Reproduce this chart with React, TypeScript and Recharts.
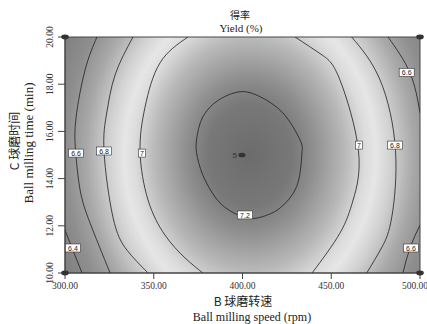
import { LineChart, Line, XAxis, YAxis, ReferenceArea, ReferenceDot } from "recharts";

const SERIF = "'Liberation Serif', 'Times New Roman', serif";
const CJK = "'Noto Sans CJK SC', sans-serif";
const SANS = "'Liberation Sans', Arial, sans-serif";

// B: ball milling speed (rpm), C: ball milling time (min)
const speedTicks = [300, 350, 400, 450, 500];
const timeTicks = [10, 12, 14, 16, 18, 20];

// contour lines (speed, time)
const contour72 = [
  { x: 398.6, y: 17.68 }, { x: 409.9, y: 17.47 }, { x: 422.8, y: 16.78 }, { x: 432.4, y: 15.64 },
  { x: 433.4, y: 15.0 }, { x: 430.5, y: 13.66 }, { x: 421.1, y: 12.75 }, { x: 408.2, y: 12.33 },
  { x: 398.6, y: 12.42 }, { x: 387.3, y: 12.97 }, { x: 378.9, y: 13.94 }, { x: 374.6, y: 14.9 },
  { x: 374.1, y: 15.64 }, { x: 377.6, y: 16.61 }, { x: 386.0, y: 17.3 },
];
const contour7Left = [
  { x: 369.3, y: 20 }, { x: 353.5, y: 18.9 }, { x: 345.1, y: 17.03 }, { x: 342.3, y: 15.13 },
  { x: 346.8, y: 13.09 }, { x: 356.3, y: 11.61 }, { x: 367.6, y: 10.64 }, { x: 377.7, y: 10 },
];
const contour7Right = [
  { x: 429.6, y: 20 }, { x: 444.8, y: 19.24 }, { x: 454.9, y: 18.18 }, { x: 465.3, y: 15.2 },
  { x: 462.3, y: 13.09 }, { x: 454.9, y: 11.69 }, { x: 439.2, y: 10 },
];
const contour68Left = [
  { x: 338.3, y: 20 }, { x: 328.2, y: 18.39 }, { x: 323.5, y: 16.78 }, { x: 322.0, y: 15.13 },
  { x: 327.0, y: 12.37 }, { x: 334.9, y: 10.97 }, { x: 346.8, y: 10 },
];
const contour68Right = [
  { x: 461.5, y: 20 }, { x: 477.5, y: 18.18 }, { x: 486.2, y: 15.2 }, { x: 484.1, y: 12.37 },
  { x: 478.6, y: 11.1 }, { x: 470.0, y: 10 },
];
const contour66Left = [
  { x: 318.0, y: 20 }, { x: 311.3, y: 18.6 }, { x: 306.2, y: 16.57 }, { x: 306.0, y: 15.13 },
  { x: 308.5, y: 13.52 }, { x: 314.1, y: 12.12 }, { x: 325.4, y: 10 },
];
const contour66TopRight = [{ x: 482.0, y: 20 }, { x: 494.4, y: 18.47 }, { x: 500, y: 16.78 }];
const contour66BottomRight = [{ x: 500, y: 12.03 }, { x: 494.4, y: 11.07 }, { x: 490.4, y: 10 }];
const contour64BottomLeft = [{ x: 300, y: 11.82 }, { x: 303.9, y: 11.07 }, { x: 309.6, y: 10 }];

const openContours = [
  contour7Left, contour7Right, contour68Left, contour68Right,
  contour66Left, contour66TopRight, contour66BottomRight, contour64BottomLeft,
];

const contourLabels = [
  { x: 306.2, y: 15.08, text: "6.6" },
  { x: 322.0, y: 15.17, text: "6.8" },
  { x: 343.4, y: 15.08, text: "7" },
  { x: 304.5, y: 11.06, text: "6.4" },
  { x: 465.6, y: 15.42, text: "7" },
  { x: 485.9, y: 15.42, text: "6.8" },
  { x: 494.9, y: 11.06, text: "6.6" },
  { x: 492.5, y: 18.5, text: "6.6" },
  { x: 401.4, y: 12.46, text: "7.2" },
];

const designPoints = [
  { x: 300, y: 20 }, { x: 500, y: 20 }, { x: 300, y: 10 }, { x: 500, y: 10 },
];
const centerPoint = { x: 399.7, y: 15.0, count: "5" };

// smooth closed curve through the points (Catmull-Rom), used for the closed 7.2 contour
const closedSmooth = (context: any) => {
  let pts: number[][] = [];
  return {
    areaStart() {},
    areaEnd() {},
    lineStart() {
      pts = [];
    },
    point(x: number, y: number) {
      pts.push([x, y]);
    },
    lineEnd() {
      const n = pts.length;
      if (!n) return;
      context.moveTo(pts[0][0], pts[0][1]);
      for (let i = 0; i < n; i++) {
        const p0 = pts[(i - 1 + n) % n];
        const p1 = pts[i];
        const p2 = pts[(i + 1) % n];
        const p3 = pts[(i + 2) % n];
        context.bezierCurveTo(
          p1[0] + (p2[0] - p0[0]) / 6,
          p1[1] + (p2[1] - p0[1]) / 6,
          p2[0] - (p3[0] - p1[0]) / 6,
          p2[1] - (p3[1] - p1[1]) / 6,
          p2[0],
          p2[1]
        );
      }
      context.closePath();
    },
  };
};

function SpeedTick({ x, y, payload }: any) {
  return (
    <text x={x} y={y} dy={8} textAnchor="middle" fontSize={9.5} fontFamily={SERIF} fill="#333">
      {Number(payload.value).toFixed(2)}
    </text>
  );
}

function TimeTick({ x, y, payload }: any) {
  return (
    <text x={x} y={y} transform={`rotate(-90 ${x} ${y})`} textAnchor="middle" fontSize={9.5} fontFamily={SERIF} fill="#333">
      {Number(payload.value).toFixed(2)}
    </text>
  );
}

function SpeedTitle() {
  return (
    <g fill="#222">
      <text x={243} y={306} textAnchor="middle" fontSize={12} fontFamily={CJK}>B 球磨转速</text>
      <text x={252} y={321} textAnchor="middle" fontSize={12} fontFamily={SERIF}>Ball milling speed (rpm)</text>
    </g>
  );
}

function TimeTitle() {
  return (
    <g fill="#222">
      <text x={19} y={141} transform="rotate(-90 19 141)" textAnchor="middle" fontSize={12} fontFamily={CJK}>C 球磨时间</text>
      <text x={33} y={143} transform="rotate(-90 33 143)" textAnchor="middle" fontSize={13} fontFamily={SERIF}>Ball milling time (min)</text>
    </g>
  );
}

function LabelBox({ cx, cy, text }: any) {
  const w = text.length * 4 + 3;
  return (
    <g>
      <rect x={cx - w / 2} y={cy - 4} width={w} height={8} fill="#fff" stroke="#333" strokeWidth={0.6} />
      <text x={cx} y={cy + 2.7} textAnchor="middle" fontSize={7} fontFamily={SANS} fill="#222">{text}</text>
    </g>
  );
}

export default function App() {
  return (
    <div style={{ position: "absolute", left: 0, top: 0, width: 427, height: 324, background: "#fff" }}>
      <LineChart width={427} height={324} margin={{ top: 37, right: 7, bottom: 21, left: 35 }}>
        <defs>
          <radialGradient
            id="yieldShade"
            gradientUnits="userSpaceOnUse"
            cx={250}
            cy={155}
            r={210}
            gradientTransform="translate(250 155) scale(1 1.22) translate(-250 -155)"
          >
            <stop offset="0" stopColor="#6c6c6c" />
            <stop offset="0.2" stopColor="#787878" />
            <stop offset="0.3" stopColor="#8e8e8e" />
            <stop offset="0.45" stopColor="#b8b8b8" />
            <stop offset="0.55" stopColor="#dcdcdc" />
            <stop offset="0.6" stopColor="#e6e6e6" />
            <stop offset="0.67" stopColor="#d2d2d2" />
            <stop offset="0.78" stopColor="#a8a8a8" />
            <stop offset="0.88" stopColor="#8e8e8e" />
            <stop offset="1" stopColor="#7e7e7e" />
          </radialGradient>
        </defs>
        <text x={240} y={19} textAnchor="middle" fontSize={10} fontFamily={CJK} fill="#222">得率</text>
        <text x={241} y={32} textAnchor="middle" fontSize={11} fontFamily={SERIF} fill="#222">Yield (%)</text>
        <XAxis
          dataKey="x"
          type="number"
          domain={[300, 500]}
          ticks={speedTicks}
          allowDataOverflow
          height={30}
          tickSize={6}
          tickMargin={2}
          stroke="#444"
          tick={<SpeedTick />}
          label={<SpeedTitle />}
        />
        <YAxis
          dataKey="y"
          type="number"
          domain={[10, 20]}
          ticks={timeTicks}
          allowDataOverflow
          width={30}
          tickSize={7}
          tickMargin={5}
          stroke="#444"
          tick={<TimeTick />}
          label={<TimeTitle />}
        />
        <ReferenceArea x1={300} x2={500} y1={10} y2={20} fill="url(#yieldShade)" fillOpacity={1} stroke="#444" strokeWidth={1} />
        <Line
          data={contour72}
          dataKey="y"
          type={closedSmooth as any}
          stroke="#1e1e1e"
          strokeWidth={0.8}
          fill="none"
          dot={false}
          activeDot={false}
          isAnimationActive={false}
        />
        {openContours.map((c, i) => (
          <Line
            key={i}
            data={c}
            dataKey="y"
            type="natural"
            stroke="#1e1e1e"
            strokeWidth={0.8}
            dot={false}
            activeDot={false}
            isAnimationActive={false}
          />
        ))}
        {contourLabels.map((l, i) => (
          <ReferenceDot
            key={"l" + i}
            x={l.x}
            y={l.y}
            ifOverflow="visible"
            shape={(p: any) => <LabelBox cx={p.cx} cy={p.cy} text={l.text} />}
          />
        ))}
        {designPoints.map((d, i) => (
          <ReferenceDot
            key={"d" + i}
            x={d.x}
            y={d.y}
            ifOverflow="visible"
            shape={(p: any) => <ellipse cx={p.cx} cy={p.cy} rx={3.8} ry={2.4} fill="#333" />}
          />
        ))}
        <ReferenceDot
          x={centerPoint.x}
          y={centerPoint.y}
          ifOverflow="visible"
          shape={(p: any) => (
            <g>
              <ellipse cx={p.cx} cy={p.cy} rx={3.5} ry={2.3} fill="#333" />
              <text x={p.cx - 5} y={p.cy + 2.5} textAnchor="end" fontSize={8} fontFamily={SANS} fill="#333">{centerPoint.count}</text>
            </g>
          )}
        />
      </LineChart>
    </div>
  );
}
